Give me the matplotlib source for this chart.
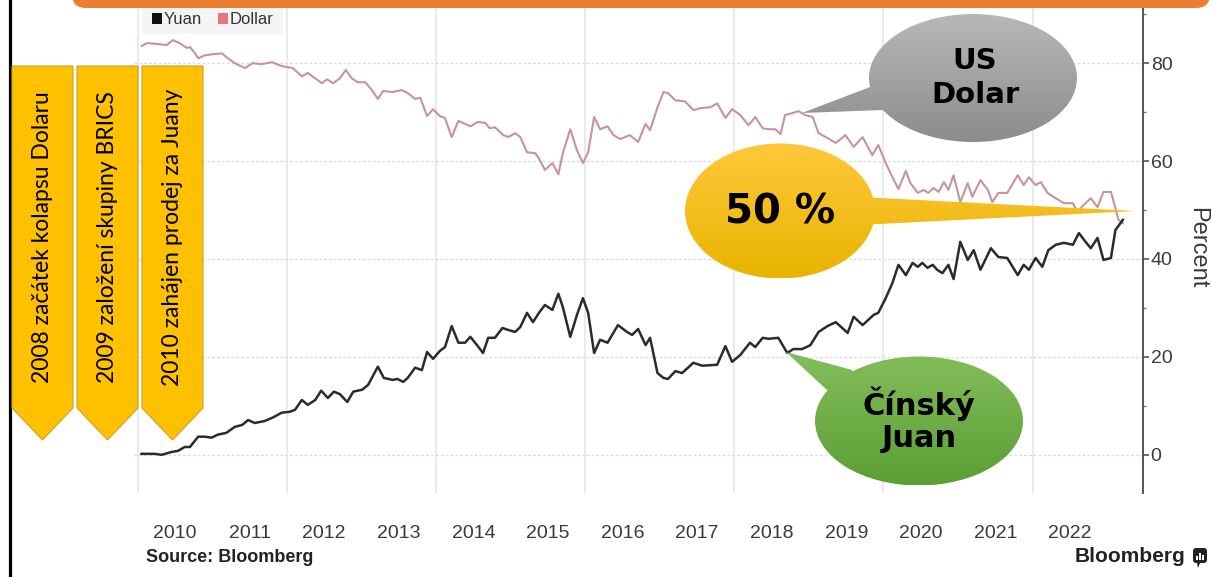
import numpy as np
import matplotlib
matplotlib.use('Agg')
from matplotlib import pyplot as plt
from matplotlib.patches import Ellipse, Polygon, Rectangle, FancyBboxPatch
from matplotlib.colors import LinearSegmentedColormap

# share of the two currencies (percent)
dollar_t = [2010.05, 2010.13, 2010.27, 2010.39, 2010.47, 2010.56, 2010.66, 2010.70, 2010.77, 2010.81,
            2010.90, 2010.99, 2011.13, 2011.21, 2011.30, 2011.44, 2011.54, 2011.66, 2011.80, 2011.93,
            2012.08, 2012.20, 2012.28, 2012.38, 2012.47, 2012.54, 2012.62, 2012.71, 2012.79, 2012.87,
            2012.95, 2013.05, 2013.14, 2013.22, 2013.29, 2013.42, 2013.54, 2013.62, 2013.72, 2013.79,
            2013.88, 2013.96, 2014.05, 2014.12, 2014.21, 2014.30, 2014.46, 2014.56, 2014.66, 2014.72,
            2014.79, 2014.90, 2014.97, 2015.06, 2015.13, 2015.22, 2015.33, 2015.37, 2015.46, 2015.56,
            2015.64, 2015.70, 2015.80, 2015.89, 2015.97, 2016.04, 2016.12, 2016.20, 2016.30, 2016.38,
            2016.47, 2016.60, 2016.71, 2016.81, 2016.87, 2016.97, 2017.05, 2017.11, 2017.21, 2017.34,
            2017.45, 2017.54, 2017.68, 2017.77, 2017.88, 2017.97, 2018.08, 2018.19, 2018.28, 2018.38,
            2018.46, 2018.55, 2018.62, 2018.68, 2018.78, 2018.86, 2018.95, 2019.05, 2019.13, 2019.25,
            2019.36, 2019.49, 2019.60, 2019.72, 2019.85, 2019.93, 2020.03, 2020.12, 2020.20, 2020.30,
            2020.36, 2020.46, 2020.54, 2020.60, 2020.67, 2020.74, 2020.81, 2020.87, 2020.94, 2021.03,
            2021.13, 2021.19, 2021.30, 2021.40, 2021.46, 2021.54, 2021.66, 2021.80, 2021.88, 2021.95,
            2022.04, 2022.11, 2022.20, 2022.31, 2022.42, 2022.54, 2022.60, 2022.68, 2022.78, 2022.87,
            2022.95, 2023.05, 2023.11, 2023.15, 2023.21]
dollar_v = [83.5, 84.1, 83.9, 83.7, 84.7, 84.1, 83.1, 83.3, 82.0, 81.0,
            81.6, 81.8, 82.0, 81.0, 80.0, 79.0, 80.0, 79.8, 80.2, 79.4,
            79.0, 77.3, 78.0, 76.9, 75.9, 76.7, 75.9, 76.9, 78.6, 76.9,
            76.1, 76.1, 74.5, 72.7, 74.3, 74.1, 74.5, 73.9, 72.7, 72.9,
            69.2, 70.6, 69.2, 68.8, 64.9, 68.2, 67.1, 68.0, 67.8, 66.7,
            66.9, 65.3, 64.9, 65.7, 64.9, 61.8, 61.6, 60.8, 58.2, 59.6,
            57.3, 61.6, 66.5, 62.2, 59.6, 61.8, 69.0, 66.5, 67.1, 65.3,
            64.5, 65.3, 63.9, 67.6, 66.3, 71.0, 74.1, 73.9, 72.4, 72.2,
            70.4, 70.8, 71.0, 71.8, 68.8, 70.6, 69.4, 67.3, 69.0, 66.7,
            66.5, 66.5, 65.5, 69.4, 69.8, 70.2, 69.4, 69.0, 65.7, 64.7,
            63.7, 65.3, 62.9, 64.9, 61.2, 63.3, 59.6, 56.7, 54.3, 58.0,
            55.5, 53.5, 54.1, 53.5, 54.5, 53.7, 55.7, 54.1, 57.1, 51.6,
            55.5, 52.7, 56.1, 54.1, 51.6, 53.5, 53.5, 57.1, 55.1, 56.7,
            55.1, 55.7, 53.5, 52.4, 51.4, 51.4, 49.6, 51.0, 52.4, 50.6,
            53.7, 53.7, 50.4, 48.0, 47.3]

yuan_t = [2010.05, 2010.23, 2010.32, 2010.46, 2010.54, 2010.63, 2010.70, 2010.81, 2010.90, 2010.99,
          2011.07, 2011.19, 2011.30, 2011.40, 2011.48, 2011.57, 2011.70, 2011.81, 2011.93, 2012.04,
          2012.11, 2012.20, 2012.28, 2012.38, 2012.46, 2012.55, 2012.63, 2012.71, 2012.81, 2012.89,
          2013.01, 2013.09, 2013.22, 2013.30, 2013.42, 2013.48, 2013.56, 2013.62, 2013.72, 2013.81,
          2013.88, 2013.96, 2014.05, 2014.12, 2014.21, 2014.30, 2014.39, 2014.46, 2014.55, 2014.63,
          2014.70, 2014.79, 2014.89, 2014.97, 2015.06, 2015.13, 2015.22, 2015.30, 2015.38, 2015.46,
          2015.56, 2015.64, 2015.70, 2015.80, 2015.89, 2015.97, 2016.04, 2016.12, 2016.20, 2016.30,
          2016.44, 2016.56, 2016.63, 2016.71, 2016.81, 2016.87, 2016.97, 2017.05, 2017.11, 2017.21,
          2017.30, 2017.45, 2017.57, 2017.77, 2017.88, 2017.97, 2018.08, 2018.21, 2018.28, 2018.38,
          2018.46, 2018.59, 2018.71, 2018.79, 2018.91, 2019.02, 2019.13, 2019.25, 2019.36, 2019.52,
          2019.60, 2019.72, 2019.87, 2019.93, 2020.03, 2020.12, 2020.20, 2020.30, 2020.39, 2020.46,
          2020.52, 2020.59, 2020.66, 2020.72, 2020.79, 2020.87, 2020.94, 2021.03, 2021.13, 2021.21,
          2021.30, 2021.44, 2021.54, 2021.66, 2021.80, 2021.88, 2021.95, 2022.04, 2022.13, 2022.21,
          2022.31, 2022.42, 2022.54, 2022.62, 2022.71, 2022.78, 2022.87, 2022.95, 2023.05, 2023.11,
          2023.21]
yuan_v = [0.2, 0.2, 0.0, 0.6, 0.8, 1.6, 1.6, 3.7, 3.7, 3.5,
          4.1, 4.5, 5.7, 6.1, 7.1, 6.5, 6.9, 7.6, 8.6, 8.8,
          9.2, 11.2, 10.2, 11.2, 13.1, 11.6, 12.9, 12.4, 10.8, 12.9,
          13.3, 14.3, 18.0, 15.7, 15.3, 15.5, 14.9, 15.7, 17.8, 17.3,
          21.0, 19.6, 21.2, 22.0, 26.3, 22.9, 22.9, 24.1, 22.4, 20.8,
          23.9, 23.9, 25.9, 25.5, 25.1, 26.1, 29.0, 27.1, 29.0, 30.6,
          29.6, 32.9, 30.2, 24.1, 28.6, 32.0, 29.0, 20.8, 23.5, 22.9,
          26.5, 25.1, 24.5, 25.7, 22.4, 23.9, 16.7, 15.7, 15.5, 17.1,
          16.7, 18.8, 18.2, 18.4, 22.2, 19.0, 20.4, 22.9, 22.0, 23.9,
          23.7, 23.9, 20.8, 21.6, 21.6, 22.4, 25.1, 26.3, 27.1, 24.9,
          28.2, 26.5, 28.6, 29.0, 32.0, 35.1, 38.8, 36.7, 39.2, 38.4,
          39.2, 38.2, 38.8, 37.8, 37.1, 38.8, 35.9, 43.5, 39.8, 41.8,
          37.8, 42.2, 40.4, 40.2, 36.7, 38.8, 37.8, 40.2, 38.4, 41.8,
          42.9, 43.3, 42.9, 45.3, 43.5, 42.2, 44.3, 39.8, 40.2, 45.9,
          48.0]

years = list(range(2010, 2023))
y_ticks = [0, 20, 40, 60, 80]
notes = ['2008 začátek kolapsu Dolaru', '2009 založení skupiny BRICS', '2010 zahájen prodej za Juany']

SANS = 'Liberation Sans'
W, H = 1212, 577
fig = plt.figure(figsize=(W / 100, H / 100), dpi=100)
fig.patch.set_facecolor('white')

# ---- main chart, pixel box 134..1143 x 0..493
ax = fig.add_axes([134 / W, 84 / H, (1143 - 134) / W, 493 / H])
ax.set_xlim(2009.95, 2023.48)
ax.set_ylim(-7.8, 92.9)

ax.plot(dollar_t, dollar_v, color='#C8939A', lw=1.5, zorder=3)
ax.plot(yuan_t, yuan_v, color='#2B2B2B', lw=1.8, zorder=3)

for s in ['left', 'top', 'bottom']:
    ax.spines[s].set_visible(False)
ax.spines['right'].set_color('#555555')
ax.spines['right'].set_linewidth(1.4)

ax.yaxis.tick_right()
ax.set_yticks(y_ticks)
ax.set_yticks([10, 30, 50, 70, 90], minor=True)
ax.tick_params(axis='y', which='major', length=4, width=1.2, color='#555555', pad=1.5,
               labelsize=14, labelcolor='#3A3A3A')
ax.tick_params(axis='y', which='minor', length=2.5, width=1, color='#777777')
for lab in ax.get_yticklabels():
    lab.set_family(SANS)

ax.set_xticks(list(range(2010, 2023, 2)))
ax.set_xticklabels([])
ax.set_xticks([y + 0.5 for y in years], minor=True)
ax.set_xticklabels([str(y) for y in years], minor=True, family=SANS, fontsize=14, color='#3A3A3A')
ax.tick_params(axis='x', which='both', length=0, pad=23)

ax.grid(axis='x', which='major', color='#E8E8E8', lw=1.3)
ax.grid(axis='y', which='major', color='#DCDCDC', lw=1.0, ls=(0, (2, 1.5)))
ax.set_axisbelow(True)

# ---- overlay in pixel coordinates for the annotations
ov = fig.add_axes([0, 0, 1, 1], zorder=5)
ov.patch.set_alpha(0)
ov.axis('off')

# legend box
ov.add_patch(Rectangle((142, 0), 141, 34, fc='#F4F4F4', ec='none', zorder=1))
ov.add_patch(Rectangle((152, 13), 10, 11, fc='#111111', ec='none', zorder=2))
ov.text(164, 19, 'Yuan', family=SANS, fontsize=12, color='#333333', va='center', zorder=2)
ov.add_patch(Rectangle((218, 13), 10, 11, fc='#E8767E', ec='none', zorder=2))
ov.text(230, 19, 'Dollar', family=SANS, fontsize=12, color='#333333', va='center', zorder=2)

# frame bits from the slide
ov.add_patch(FancyBboxPatch((72, -40), 1138, 48, boxstyle='round,pad=0,rounding_size=14',
                            fc='#ED7D31', ec='none', zorder=2))
ov.plot([9.5, 9.5], [0, 577], color='black', lw=2.3, zorder=2)

# yellow arrow banners
for i, txt in enumerate(notes):
    x0 = [12, 77, 142][i]
    x1 = x0 + 61
    xc = (x0 + x1) / 2
    ov.add_patch(Polygon([(x0, 66), (x1, 66), (x1, 408), (xc, 440), (x0, 408)], closed=True,
                         fc='#FFC000', ec='#C9A227', lw=0.8, zorder=3))
    ov.text(xc, 237, txt, rotation=90, ha='center', va='center', family='Lato',
            fontsize=16.5, color='black', zorder=4)


def bubble(cx, cy, w, h, tail, top, bottom):
    cmap = LinearSegmentedColormap.from_list('grad', [top, bottom])
    grad = np.linspace(0, 1, 256)[:, None]
    xs = [cx - w / 2, cx + w / 2] + [p[0] for p in tail]
    ys = [cy - h / 2, cy + h / 2] + [p[1] for p in tail]
    ell = Ellipse((cx, cy), w, h, transform=ov.transData)
    tri = Polygon(tail, closed=True, transform=ov.transData)
    for clip in (ell, tri):
        im = ov.imshow(grad, cmap=cmap, extent=(min(xs), max(xs), max(ys), min(ys)),
                       aspect='auto', origin='upper', zorder=6, interpolation='bilinear')
        im.set_clip_path(clip)


bubble(973, 78, 208, 128, [(802, 113), (870, 87), (905, 95), (883, 110)], '#B8B8B8', '#8C8C8C')
bubble(780, 211, 190, 135, [(860, 197), (1135, 211), (860, 225)], '#FFC83C', '#E8B400')
bubble(919, 421, 208, 129, [(786, 352), (852, 370), (865, 395), (827, 390)], '#84BE5C', '#5C9E34')

ov.text(975, 78, 'US\nDolar', ha='center', va='center', fontsize=21, fontweight='bold',
        linespacing=1.25, zorder=7)
ov.text(780, 212, '50 %', ha='center', va='center', fontsize=29, fontweight='bold', zorder=7)
ov.text(919, 420, 'Čínský\nJuan', ha='center', va='center', fontsize=22, fontweight='bold',
        linespacing=1.15, zorder=7)

# axis title and footer
ov.text(1197, 248, 'Percent', rotation=270, ha='center', va='center', family=SANS,
        fontsize=17, color='#3A3A3A')
ov.text(146, 557, 'Source: Bloomberg', family=SANS, fontweight='bold', fontsize=13,
        color='#222222', va='center')
ov.text(1185, 556, 'Bloomberg', family=SANS, fontweight='bold', fontsize=15,
        color='#222222', va='center', ha='right')
ov.add_patch(FancyBboxPatch((1193, 548), 14, 15, boxstyle='round,pad=0,rounding_size=3',
                            fc='#222222', ec='none'))
ov.add_patch(Polygon([(1197, 563), (1200, 563), (1198, 568)], closed=True, fc='#222222', ec='none'))
for bx, bh in [(1196, 4), (1199, 7), (1202, 5)]:
    ov.add_patch(Rectangle((bx, 560 - bh), 2, bh, fc='white', ec='none'))

ov.set_xlim(0, W)
ov.set_ylim(H, 0)

fig.savefig('out.png', dpi=100)
